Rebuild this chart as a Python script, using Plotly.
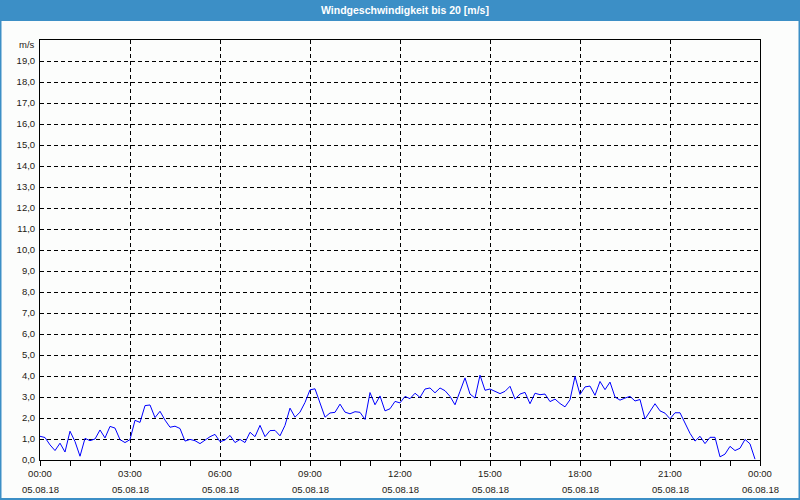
import plotly.graph_objects as go
import pandas as pd

# ---------------- data ----------------
title_text = "Windgeschwindigkeit bis 20 [m/s]"
y_unit = "m/s"
start_time = "2018-08-05 00:00"
end_time = "2018-08-06 00:00"
interval = "10min"

wind_speed = [
    1.13, 1.07, 0.72, 0.45, 0.80, 0.38, 1.37, 0.88, 0.18, 1.03, 0.92, 1.00,
    1.43, 1.05, 1.60, 1.52, 0.97, 0.83, 0.97, 1.89, 1.79, 2.59, 2.62, 2.02,
    2.32, 1.90, 1.56, 1.61, 1.50, 0.90, 0.98, 0.92, 0.78, 0.95, 1.11, 1.22,
    0.87, 0.95, 1.17, 0.83, 0.98, 0.83, 1.32, 1.11, 1.65, 1.11, 1.40, 1.41,
    1.15, 1.65, 2.47, 2.04, 2.28, 2.74, 3.34, 3.39, 2.70, 2.04, 2.24, 2.27,
    2.66, 2.28, 2.20, 2.30, 2.27, 1.93, 3.21, 2.63, 3.05, 2.34, 2.44, 2.79,
    2.72, 3.03, 2.92, 3.18, 2.98, 3.38, 3.43, 3.20, 3.43, 3.30, 3.03, 2.63,
    3.27, 3.91, 3.14, 2.95, 4.04, 3.32, 3.38, 3.27, 3.16, 3.27, 3.51, 2.90,
    3.14, 3.22, 2.68, 3.18, 3.11, 3.14, 2.78, 2.90, 2.69, 2.53, 2.87, 3.98,
    3.12, 3.48, 3.52, 3.08, 3.74, 3.35, 3.71, 3.00, 2.85, 2.95, 3.03, 2.81,
    2.88, 1.95, 2.30, 2.68, 2.34, 2.23, 1.96, 2.25, 2.25, 1.73, 1.27, 0.90,
    1.13, 0.78, 1.08, 1.08, 0.15, 0.28, 0.65, 0.45, 0.56, 0.98, 0.77, 0.04,
]

y_tick_values = list(range(0, 20))
y_tick_labels = [f"{v},0" for v in y_tick_values]

x_tick_values = ["2018-08-05 00:00", "2018-08-05 03:00", "2018-08-05 06:00",
                 "2018-08-05 09:00", "2018-08-05 12:00", "2018-08-05 15:00",
                 "2018-08-05 18:00", "2018-08-05 21:00", "2018-08-06 00:00"]
x_time_labels = ["00:00", "03:00", "06:00", "09:00", "12:00",
                 "15:00", "18:00", "21:00", "00:00"]
x_date_labels = ["05.08.18"] * 8 + ["06.08.18"]

times = pd.date_range(start_time, periods=len(wind_speed), freq=interval)

# ---------------- figure ----------------
W, H = 800, 500
ML, MR, MT, MB = 40, 40, 40, 40
PW, PH = W - ML - MR, H - MT - MB


def px_x(px):
    return (px - ML) / PW


def px_y(py):
    return (H - MB - py) / PH


FONT = "Liberation Sans, Arial, sans-serif"
TXT = "#1e1a14"
BLUE_BAR = "#3c8fc6"

fig = go.Figure()
fig.add_trace(go.Scatter(
    x=times, y=wind_speed, mode="lines",
    line=dict(color="#0000ff", width=1),
    hoverinfo="skip", showlegend=False,
))

fig.update_layout(
    width=W, height=H, autosize=False,
    margin=dict(l=ML, r=MR, t=MT, b=MB, pad=0),
    paper_bgcolor="#fcfdfc", plot_bgcolor="#fcfdfc",
    font=dict(family=FONT, size=9.5, color=TXT),
    showlegend=False,
)

fig.update_xaxes(
    type="date",
    range=[start_time, end_time],
    tickmode="array", tickvals=x_tick_values, ticktext=x_time_labels,
    ticks="outside", ticklen=5, tickcolor="black", tickwidth=1,
    showgrid=True, gridcolor="black", gridwidth=1, griddash="4px,3px",
    showline=True, linecolor="black", linewidth=1, mirror=True,
    zeroline=False,
    minor=dict(dtick=3600000, tick0=start_time, ticks="outside", ticklen=5,
               tickcolor="black", tickwidth=1, showgrid=False),
    tickfont=dict(family=FONT, size=9.5, color=TXT),
    fixedrange=True,
)

fig.update_yaxes(
    range=[0, 20],
    tickmode="array", tickvals=y_tick_values, ticktext=y_tick_labels,
    ticks="", showgrid=True, gridcolor="black", gridwidth=1, griddash="4px,3px",
    showline=True, linecolor="black", linewidth=1, mirror=True,
    zeroline=False,
    tickfont=dict(family=FONT, size=9.5, color=TXT),
    ticklabelstandoff=2,
    fixedrange=True,
)

shapes = [
    # title bar
    dict(type="rect", xref="paper", yref="paper",
         x0=px_x(0), x1=px_x(W), y0=px_y(21), y1=px_y(0),
         fillcolor=BLUE_BAR, line=dict(width=0), layer="above"),
    # outer window frame
    dict(type="rect", xref="paper", yref="paper",
         x0=px_x(0.5), x1=px_x(W - 0.5), y0=px_y(H - 1), y1=px_y(0.5),
         line=dict(color=BLUE_BAR, width=2), fillcolor="rgba(0,0,0,0)",
         layer="above"),
]

annotations = [
    dict(text="<b>" + title_text + "</b>", xref="paper", yref="paper",
         x=px_x(W / 2 + 5), y=px_y(10),
         xanchor="center", yanchor="middle", showarrow=False,
         font=dict(family=FONT, size=10.5, color="white")),
    dict(text=y_unit, xref="paper", yref="paper", x=px_x(37), y=px_y(45),
         xanchor="right", yanchor="middle", showarrow=False,
         font=dict(family=FONT, size=9.5, color=TXT)),
]
for xv, dl in zip(x_tick_values, x_date_labels):
    annotations.append(dict(
        text=dl, xref="x", yref="paper", x=xv, y=px_y(489),
        xanchor="center", yanchor="middle", showarrow=False,
        font=dict(family=FONT, size=9.5, color=TXT)))

fig.update_layout(shapes=shapes, annotations=annotations)

fig.write_html("out.html")
